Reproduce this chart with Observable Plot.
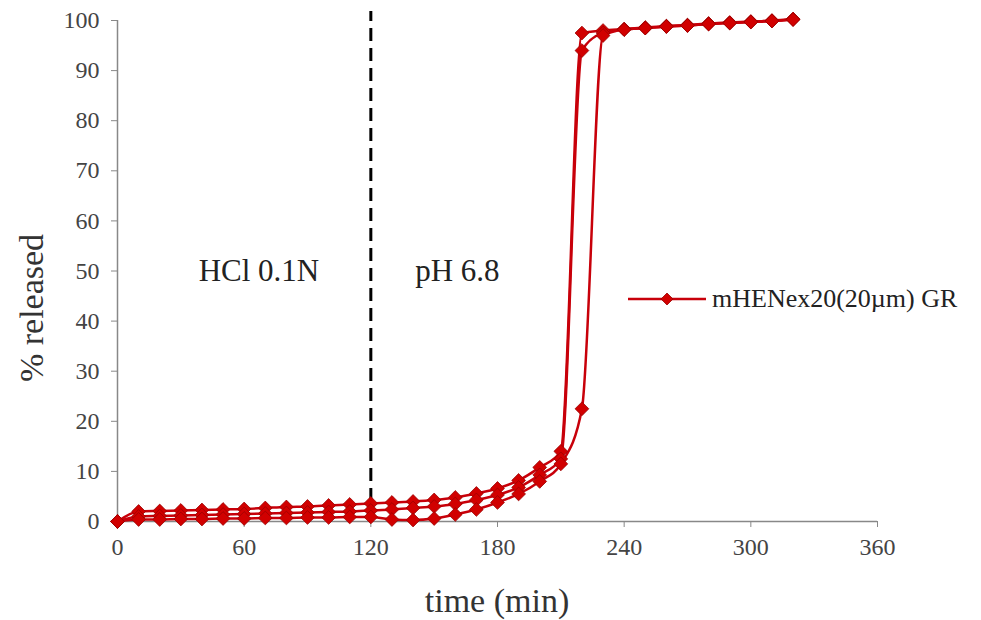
<!DOCTYPE html>
<html><head><meta charset="utf-8">
<script src="https://cdn.jsdelivr.net/npm/d3@7"></script>
<script src="https://cdn.jsdelivr.net/npm/@observablehq/plot@0.6"></script>
<style>
body{margin:0;background:#fff;}
#wrap{position:relative;width:981px;height:620px;font-family:'Liberation Serif','Times New Roman',serif;}
.lbl{position:absolute;color:#333;white-space:nowrap;line-height:1;}
svg text{font-family:'Liberation Serif','Times New Roman',serif;}
</style>
</head><body><div id="wrap"></div>
<script>
const time = [0,10,20,30,40,50,60,70,80,90,100,110,120,130,140,150,160,170,180,190,200,210,220,230,240,250,260,270,280,290,300,310,320];
const rep1 = [0,2.0,2.1,2.2,2.3,2.4,2.5,2.7,2.9,3.0,3.2,3.4,3.6,3.8,4.0,4.3,4.8,5.6,6.6,8.2,10.8,14.0,97.5,98.0,98.3,98.6,98.9,99.1,99.4,99.6,99.8,100.0,100.3];
const rep2 = [0,1.0,1.1,1.2,1.3,1.4,1.5,1.6,1.7,1.8,1.9,2.0,2.2,2.4,2.7,3.0,3.5,4.3,5.3,6.8,9.3,12.5,94.0,97.5,98.2,98.5,98.8,99.0,99.3,99.5,99.7,99.9,100.2];
const rep3 = [0,0.4,0.4,0.5,0.5,0.6,0.6,0.7,0.7,0.8,0.8,0.9,0.9,0.4,0.3,0.6,1.4,2.4,3.8,5.5,8.0,11.5,22.5,97.0,98.2,98.5,98.8,99.0,99.3,99.5,99.7,99.9,100.2];
const xTicks = [0,60,120,180,240,300,360];
const yTicks = [0,10,20,30,40,50,60,70,80,90,100];
const phaseChange = [120];
const phaseLabels = ["HCl 0.1N","pH 6.8"];
const phaseLabelX = [67,161];
const phaseLabelY = [50,50];
const seriesName = "mHENex20(20µm) GR";

const data = [];
[rep1,rep2,rep3].forEach((arr,k)=>arr.forEach((v,i)=>data.push({t:time[i],v,rep:k})));
const notes = phaseLabels.map((s,i)=>({s,x:phaseLabelX[i],y:phaseLabelY[i]}));

const red = "#c8000a";
const serif = "'Liberation Serif', 'Times New Roman', serif";
const chart = Plot.plot({
  width:981, height:620,
  marginLeft:117, marginRight:104, marginTop:20, marginBottom:99,
  style:{fontFamily:serif, fontSize:"24px", color:"#444", background:"#fff", overflow:"visible"},
  x:{domain:[0,360]},
  y:{domain:[0,100]},
  marks:[
    Plot.axisX({ticks:xTicks, tickSize:6, tickPadding:10, fontSize:24, fontFamily:serif, fill:"#444", stroke:"#888", label:null, tickFormat:d=>d}),
    Plot.axisY({ticks:yTicks, tickSize:6, tickPadding:12, fontSize:24, fontFamily:serif, fill:"#444", stroke:"#888", label:null, tickFormat:d=>d}),
    Plot.ruleY([0],{stroke:"#888", strokeWidth:1.5}),
    Plot.ruleX([0],{stroke:"#888", strokeWidth:1.5}),
    Plot.ruleX(phaseChange,{y1:0, y2:101.8, stroke:"#000", strokeWidth:3, strokeDasharray:"13,7"}),
    Plot.line(data,{x:"t", y:"v", z:"rep", stroke:red, strokeWidth:2.5, curve:"monotone-x"}),
    Plot.dot(data,{x:"t", y:"v", symbol:"diamond2", r:6.2, fill:"#d10000", stroke:"#9a0000", strokeWidth:0.8}),
    Plot.text(notes,{x:"x", y:"y", text:"s", fontSize:31, fill:"#222", fontFamily:serif})
  ]
});
const wrap = document.getElementById("wrap");
wrap.appendChild(chart);

// legend
const leg = document.createElement("div");
leg.className = "lbl";
leg.style.left = "626px"; leg.style.top = "284px"; leg.style.fontSize = "26px"; leg.style.color = "#222";
leg.innerHTML = `<svg width="82" height="26" style="vertical-align:middle"><line x1="2" x2="80" y1="13" y2="13" stroke="${red}" stroke-width="2.5"/><path d="M41,7 L47,13 L41,19 L35,13Z" fill="#d10000" stroke="#9a0000" stroke-width="0.8"/></svg><span style="margin-left:4px;vertical-align:middle">${seriesName}</span>`;
wrap.appendChild(leg);

const xt = document.createElement("div");
xt.className = "lbl"; xt.textContent = "time (min)";
xt.style.fontSize = "34px"; xt.style.left = "497px"; xt.style.top = "584px"; xt.style.transform = "translateX(-50%)";
wrap.appendChild(xt);

const yt = document.createElement("div");
yt.className = "lbl"; yt.textContent = "% released";
yt.style.fontSize = "34px"; yt.style.left = "32px"; yt.style.top = "308px";
yt.style.transform = "translate(-50%,-50%) rotate(-90deg)";
wrap.appendChild(yt);
</script>
</body></html>
